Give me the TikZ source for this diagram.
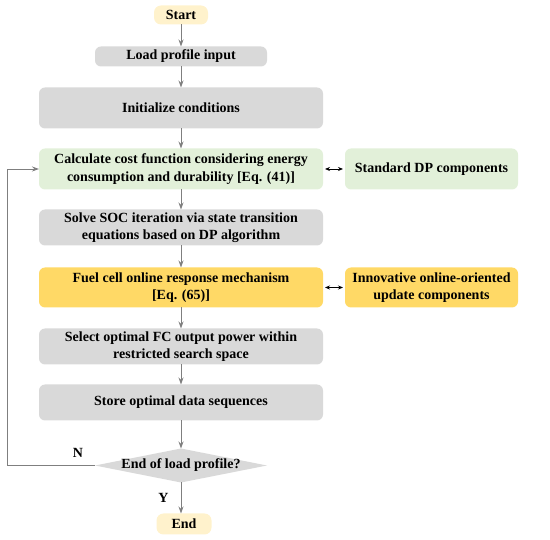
\documentclass[tikz,border=0pt]{standalone}
\usepackage{fontspec}
\setmainfont{Liberation Serif}
\definecolor{creamfill}{HTML}{FFF2CC}
\definecolor{stepgray}{HTML}{D9D9D9}
\definecolor{dpgreen}{HTML}{E2F0D9}
\definecolor{onlinegold}{HTML}{FFD966}
\definecolor{arrowgray}{HTML}{7F7F7F}
\usetikzlibrary{positioning,shapes,arrows.meta}

\begin{document}
\begin{tikzpicture}[
    txt/.style={font=\fontsize{14}{17.5}\selectfont\bfseries, align=center, inner sep=0pt, outer sep=0pt},
    term/.style={txt, rectangle, rounded corners=7pt, fill=creamfill, minimum height=19pt, minimum width=54pt},
    proc/.style={txt, rectangle, rounded corners=6pt, fill=stepgray, minimum width=284pt, minimum height=36pt},
    side/.style={txt, rectangle, rounded corners=6pt, minimum width=173pt, minimum height=41pt},
    decision/.style={txt, diamond, aspect=5, fill=stepgray, minimum width=172pt, minimum height=34pt},
    flow/.style={draw=arrowgray, line width=0.9pt, -{Stealth[length=7pt,width=5pt]}},
    link/.style={draw=black, line width=0.8pt, {Stealth[length=5pt,width=4pt]}-{Stealth[length=5pt,width=4pt]}, shorten <=2pt, shorten >=2pt},
    lbl/.style={font=\fontsize{14}{16}\selectfont\bfseries, inner sep=0pt}
]
    \useasboundingbox (0,0) rectangle (550pt,-540pt);

    \node[term] (start) at (181pt,-15pt) {Start};
    \node[proc, below=22pt of start, minimum width=172pt, minimum height=20pt] (load) {Load profile input};
    \node[proc, below=21pt of load, minimum height=41pt] (init) {Initialize conditions};
    \node[proc, below=20pt of init, minimum height=41pt, fill=dpgreen] (calc) {Calculate cost function considering energy\\consumption and durability [Eq. (41)]};
    \node[proc, below=20pt of calc] (solve) {Solve SOC iteration via state transition\\equations based on DP algorithm};
    \node[proc, below=22pt of solve, minimum height=40pt, fill=onlinegold] (fuel) {Fuel cell online response mechanism\\{[}Eq. (65)]};
    \node[proc, below=21pt of fuel] (select) {Select optimal FC output power within\\restricted search space};
    \node[proc, below=20pt of select] (store) {Store optimal data sequences};
    \node[decision, below=28pt of store] (dec) {\makebox[60pt]{End of load profile?}};
    \node[term, below=31pt of dec, xshift=3pt, minimum height=21pt, minimum width=55pt] (finish) {End};

    \node[side, right=22pt of calc, fill=dpgreen] (std) {Standard DP components};
    \node[side, right=22pt of fuel, minimum height=40pt, fill=onlinegold] (innov) {Innovative online-oriented\\update components};

    % main flow
    \draw[flow] (start) -- (load);
    \draw[flow] (load) -- (init);
    \draw[flow] (init) -- (calc);
    \draw[flow] (calc) -- (solve);
    \draw[flow] (solve) -- (fuel);
    \draw[flow] (fuel) -- (select);
    \draw[flow] (select) -- (store);
    \draw[flow] (store) -- (dec);
    \draw[flow] (dec.south) -- node[lbl, left=12pt] (yes) {Y} (dec.south |- finish.north);

    % loop back
    \coordinate (back) at ([xshift=-88pt]dec.west);
    \draw[flow] (dec.west) -- (back) |- (calc.west);
    \node[lbl] (no) at ([xshift=-17pt,yshift=13pt]dec.west) {N};

    % component links
    \draw[link] (calc) -- (std);
    \draw[link] (fuel) -- (innov);
\end{tikzpicture}
\end{document}
